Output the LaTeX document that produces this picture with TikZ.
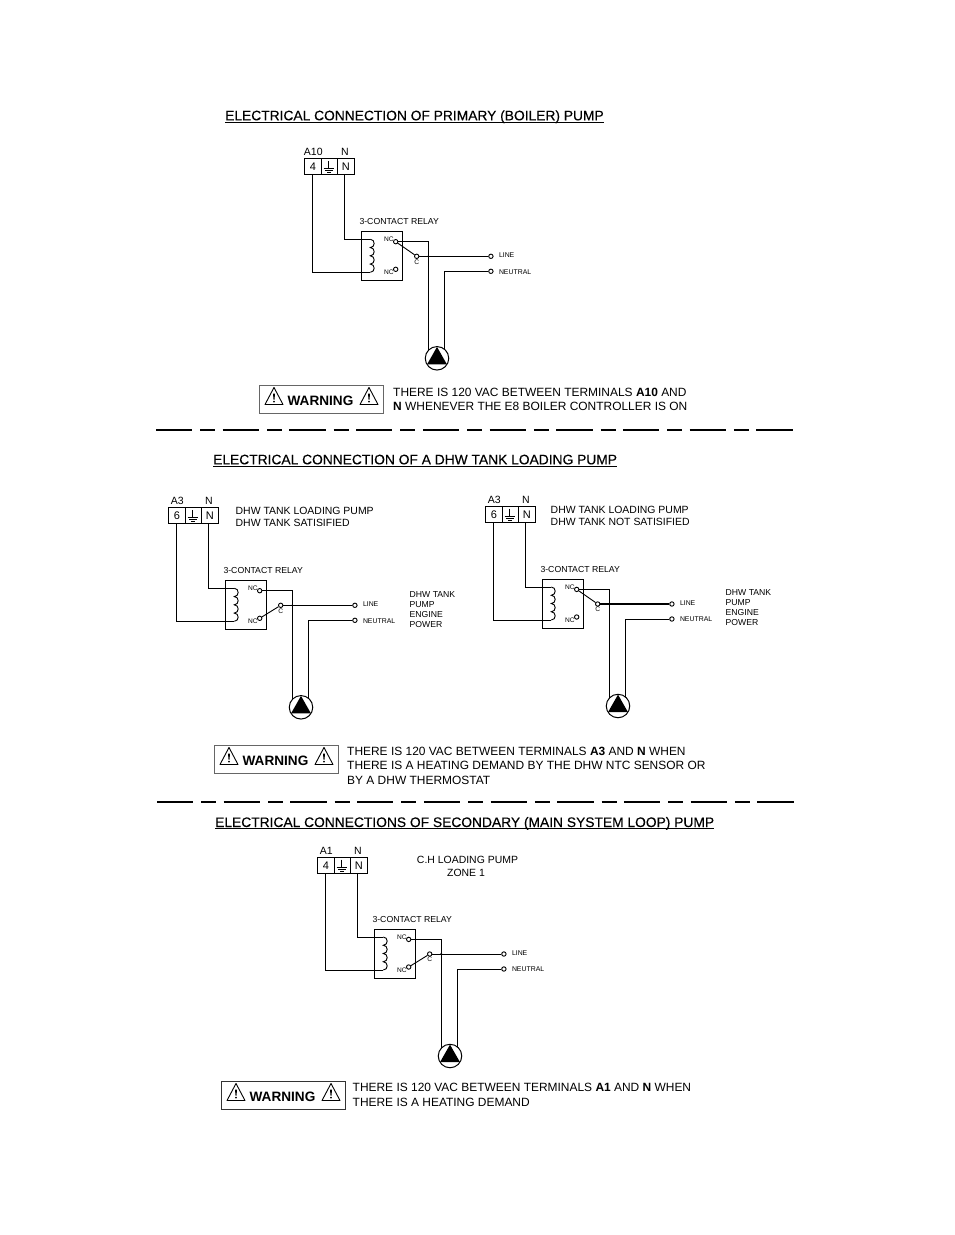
\documentclass[tikz,border=0pt]{standalone}
\usepackage{fontspec}
\setmainfont{Liberation Sans}
\newfontfamily\heavyfont[FakeBold=0.25]{Liberation Sans}
\usetikzlibrary{calc}
\tikzset{
  x=1pt,y=-1pt,
  wire/.style={line width=0.9pt,line join=miter},
  thickwire/.style={line width=2pt},
  boxline/.style={draw,line width=0.9pt},
  term/.style={boxline,minimum width=16.4pt,minimum height=16pt,inner sep=0pt,font=\fontsize{11}{12}\selectfont},
  tlabel/.style={inner sep=0pt,font=\fontsize{10.5}{12}\selectfont},
  relaylabel/.style={inner sep=0pt,font=\fontsize{8.7}{10}\selectfont,anchor=west},
  small/.style={inner sep=0pt,font=\fontsize{6.9}{8}\selectfont,anchor=west},
  smalltiny/.style={inner sep=0pt,font=\fontsize{6.6}{8}\selectfont},
  contact/.style={circle,draw,line width=0.9pt,fill=white,minimum size=4.4pt,inner sep=0pt},
  title/.style={inner sep=0pt,anchor=base west,font=\heavyfont\fontsize{13.8}{15}\selectfont},
  para/.style={inner sep=0pt,anchor=west,font=\fontsize{11.95}{14}\selectfont},
  side/.style={inner sep=0pt,anchor=west,font=\fontsize{8.65}{11}\selectfont},
  sideb/.style={inner sep=0pt,anchor=west,font=\fontsize{10.45}{13}\selectfont},
  warnbox/.style={draw=black!60,line width=0.9pt,minimum width=124.5pt,minimum height=28pt,inner sep=0pt},
  warntext/.style={inner sep=0pt,font=\bfseries\fontsize{13.6}{15}\selectfont},
  divider/.style={line width=1.5pt,dash pattern=on 36.3pt off 8pt on 15pt off 7.4pt},
}
% name, x, y, terminal label, digit, switch target, C line style, lower part offset
\newcommand{\panel}[8]{%
\begin{scope}[shift={(#2,#3)}]
  \node[term,anchor=north west] (#1t1) at (0,0) {#5};
  \node[term,anchor=north west] (#1t2) at (16.4,0) {};
  \node[term,anchor=north west] (#1t3) at (32.8,0) {N};
  \node[tlabel] (#1lab) at (9,-6) {#4};
  \node[tlabel] (#1labn) at (40.5,-6) {N};
  % earth symbol
  \coordinate (#1g) at (24.6,2.5);
  \draw[wire] (24.6,2.5) -- (24.6,10) (19.4,10) -- (29.8,10) (21,12) -- (28.2,12) (22.8,14) -- (26.4,14);
  \begin{scope}[shift={(0,#8)}]
  \node[boxline,minimum width=40.5pt,minimum height=49pt,inner sep=0pt,anchor=north west] (#1rel) at (57,73) {};
  \node[relaylabel] (#1rl) at (55,63) {3-CONTACT RELAY};
  \coordinate (#1ca) at (66,81);
  \coordinate (#1cb) at (66,114);
  \node[contact] (#1nco) at (91.4,83.4) {};
  \node[contact] (#1ncc) at (91.4,111) {};
  \node[contact] (#1c) at (112.4,98) {};
  \node[smalltiny] (#1l1) at (84.5,81) {NC};
  \node[smalltiny] (#1l2) at (84.5,113.8) {NC};
  \node[smalltiny] (#1l3) at (112.4,103.5) {C};
  \coordinate (#1dn) at (124,98);
  \coordinate (#1lp) at (124,198);
  \coordinate (#1np) at (140,202);
  \node[contact] (#1line) at (186.6,98) {};
  \node[contact] (#1neut) at (186.6,113) {};
  \node[small] (#1lt) at (194.5,97) {LINE};
  \node[small] (#1nt) at (194.5,113.5) {NEUTRAL};
  \end{scope}
  \draw[wire] (#1t1.south -| 8,0) |- (#1cb);
  \draw[wire] (#1t3.south -| 40,0) |- (#1ca);
  \draw[wire] (#1ca) to[out=0,in=0,looseness=1.6] ++(0,8.25) to[out=0,in=0,looseness=1.6] ++(0,8.25)
     to[out=0,in=0,looseness=1.6] ++(0,8.25) to[out=0,in=0,looseness=1.6] ++(0,8.25);
  \draw[wire] (#1nco) -| (#1lp);
  \draw[wire,#7] (#1c) -- (#1line);
  \fill (#1dn) circle (1.1);
  \draw[wire] (#1neut) -| (#1np);
  \draw[wire] (#6) -- (#1c);
  \begin{scope}[shift={(0,#8)}]
  \node[circle,draw,line width=1pt,fill=white,minimum size=23.5pt,inner sep=0pt] (#1pump) at (132.7,200) {};
  \fill (132.7,188.6) -- (142.6,206) -- (122.8,206) -- cycle;
  \end{scope}
\end{scope}}
% warning triangle
\newcommand{\wtri}[2]{%
  \draw[line width=0.9pt,line join=round] (#1,#2-9.5) -- (#1+9,#2+7.5) -- (#1-9,#2+7.5) -- cycle;
  \fill (#1-1,#2-3.5) -- (#1+1,#2-3.5) -- (#1+.5,#2+2.5) -- (#1-.5,#2+2.5) -- cycle;
  \fill (#1,#2+4.6) circle (0.9);}
\newcommand{\warn}[4]{%
  \node[warnbox,anchor=north west,#4] (#1) at (#2,#3) {};
  \node[warntext] (#1t) at (#2+62,#3+15.5) {WARNING};
  \wtri{#2+15.5}{#3+12}
  \wtri{#2+110.5}{#3+12}}
\begin{document}
\begin{tikzpicture}
\useasboundingbox (0,0) rectangle (954,1235);
\fill[white] (0,0) rectangle (954,1235);
\node[title] (t1) at (225,120.3) {\underline{\smash{ELECTRICAL CONNECTION OF PRIMARY (BOILER) PUMP}}};
\node[title] (t2) at (213,464.3) {\underline{\smash{ELECTRICAL CONNECTION OF A DHW TANK LOADING PUMP}}};
\node[title] (t3) at (215,827) {\underline{\smash{ELECTRICAL CONNECTIONS OF SECONDARY (MAIN SYSTEM LOOP) PUMP}}};

\panel{a}{304.3}{158.3}{A10}{4}{anco}{}{0}
\panel{b}{168.3}{507.3}{A3}{6}{bncc}{}{0}
\panel{c}{485.3}{506}{A3}{6}{cnco}{thickwire}{0}
\panel{d}{317.3}{857}{A1}{4}{dncc}{}{-1}

\warn{w1}{258.5}{385}{}
\warn{w2}{213.5}{745}{}
\warn{w3}{220.5}{1081}{draw=black!80}
\node[para] (p1a) at (393,392) {THERE IS 120 VAC BETWEEN TERMINALS \textbf{A10} AND};
\node[para] (p1b) at (393,406.5) {\textbf{N} WHENEVER THE E8 BOILER CONTROLLER IS ON};
\node[para] (p2a) at (347,751) {THERE IS 120 VAC BETWEEN TERMINALS \textbf{A3} AND \textbf{N} WHEN};
\node[para] (p2b) at (347,765) {THERE IS A HEATING DEMAND BY THE DHW NTC SENSOR OR};
\node[para] (p2c) at (347,780) {BY A DHW THERMOSTAT};
\node[para] (p3a) at (352.5,1087.5) {THERE IS 120 VAC BETWEEN TERMINALS \textbf{A1} AND \textbf{N} WHEN};
\node[para] (p3b) at (352.5,1102.5) {THERE IS A HEATING DEMAND};

\node[sideb] (s1) at (235.5,511) {DHW TANK LOADING PUMP};
\node[sideb] (s2) at (235.5,523) {DHW TANK SATISIFIED};
\node[sideb] (s3) at (550.5,509.5) {DHW TANK LOADING PUMP};
\node[sideb] (s4) at (550.5,522) {DHW TANK NOT SATISIFIED};
\node[side] (e1) at (409.5,594.5) {DHW TANK};
\node[side] (e2) at (409.5,604.5) {PUMP};
\node[side] (e3) at (409.5,614.5) {ENGINE};
\node[side] (e4) at (409.5,624.5) {POWER};
\node[side] (f1) at (725.5,592.5) {DHW TANK};
\node[side] (f2) at (725.5,602.5) {PUMP};
\node[side] (f3) at (725.5,612.5) {ENGINE};
\node[side] (f4) at (725.5,622.5) {POWER};
\node[sideb,anchor=center] (z1) at (467.5,860) {C.H LOADING PUMP};
\node[sideb,anchor=center] (z2) at (466,872.5) {ZONE 1};

\coordinate (da) at (156,430);
\coordinate (db) at (793,430);
\coordinate (dc) at (157,802);
\coordinate (dd) at (795,802);
\draw[divider] (da) -- (db);
\draw[divider,line width=1.1pt] (dc) -- (dd);
\end{tikzpicture}
\end{document}
